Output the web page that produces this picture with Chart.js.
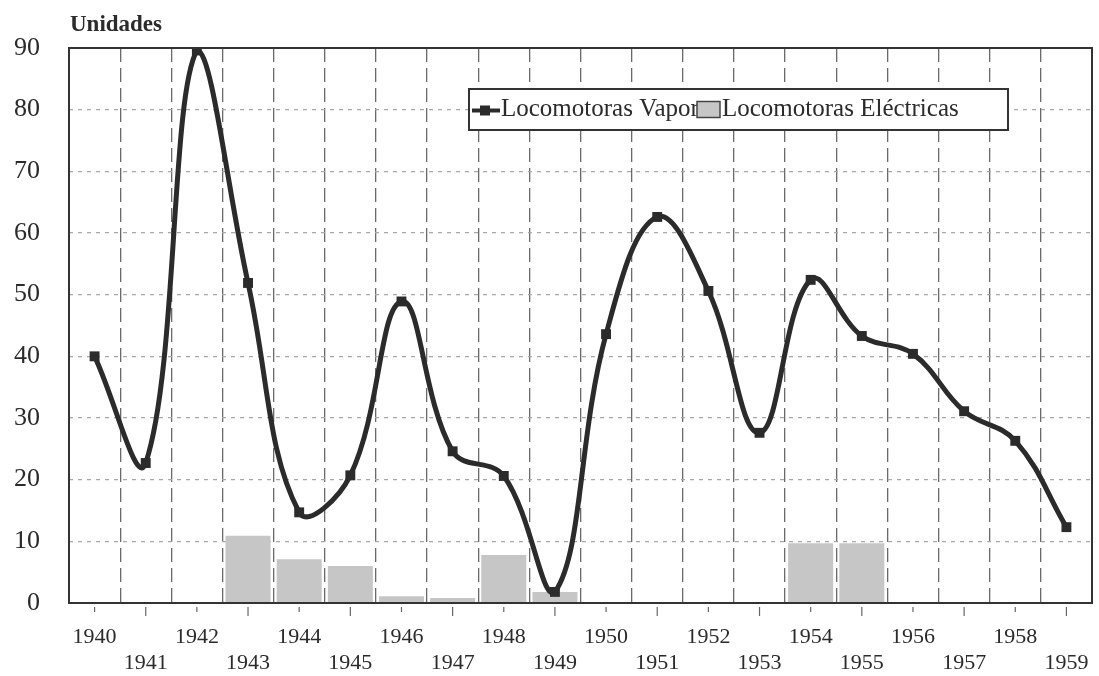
<!DOCTYPE html>
<html>
<head>
<meta charset="utf-8">
<script src="https://cdn.jsdelivr.net/npm/chart.js@4/dist/chart.umd.min.js"></script>
<style>
  html, body { margin: 0; padding: 0; background: #fff; }
  #wrap { width: 1099px; height: 676px; position: relative; }
</style>
</head>
<body>
<div id="wrap"><canvas id="c" width="1099" height="676"></canvas></div>
<script>
// ---- data ----
const years = ['1940','1941','1942','1943','1944','1945','1946','1947','1948','1949',
               '1950','1951','1952','1953','1954','1955','1956','1957','1958','1959'];
const vapor = [40, 22.7, 89.6, 51.9, 14.7, 20.7, 48.9, 24.6, 20.6, 1.8,
               43.6, 62.6, 50.6, 27.6, 52.4, 43.3, 40.4, 31.1, 26.3, 12.3];
const electricas = [null, null, null, 10.9, 7.1, 6.0, 1.1, 0.8, 7.8, 1.8,
                    null, null, null, null, 9.7, 9.7, null, null, null, null];
const yTicks = [0, 10, 20, 30, 40, 50, 60, 70, 80, 90];
const unitLabel = 'Unidades';
const seriesNames = ['Locomotoras Vapor', 'Locomotoras Eléctricas'];

const SERIF = '"Liberation Serif", "DejaVu Serif", serif';
const INK = '#2b2b2b';
const BAR = '#c6c6c6';

const framePlugin = {
  id: 'frame',
  afterDraw(chart) {
    const ctx = chart.ctx, a = chart.chartArea;
    const xs = chart.scales.x;
    ctx.save();
    // frame
    ctx.strokeStyle = '#333';
    ctx.lineWidth = 2;
    ctx.setLineDash([]);
    ctx.strokeRect(a.left, a.top, a.right - a.left, a.bottom - a.top);
    // small tick marks at category centres
    ctx.lineWidth = 1.2;
    ctx.strokeStyle = '#666';
    for (let i = 0; i < years.length; i++) {
      const x = xs.getPixelForValue(i);
      ctx.beginPath();
      ctx.moveTo(x, a.bottom + 4);
      ctx.lineTo(x, a.bottom + (i % 2 ? 13 : 9));
      ctx.stroke();
    }
    // unit label
    ctx.fillStyle = INK;
    ctx.font = 'bold 23px ' + SERIF;
    ctx.textAlign = 'left';
    ctx.textBaseline = 'alphabetic';
    ctx.fillText(unitLabel, a.left + 1, 31);
    // legend box
    const lx = 469, ly = 89, lw = 539, lh = 41;
    ctx.fillStyle = '#fff';
    ctx.fillRect(lx, ly, lw, lh);
    ctx.strokeStyle = '#333';
    ctx.lineWidth = 2;
    ctx.strokeRect(lx, ly, lw, lh);
    const cy = ly + lh / 2;
    // line sample
    ctx.strokeStyle = INK;
    ctx.lineWidth = 4;
    ctx.beginPath(); ctx.moveTo(lx + 3, cy + 1); ctx.lineTo(lx + 31, cy + 1); ctx.stroke();
    ctx.fillStyle = INK;
    ctx.fillRect(lx + 11, cy - 4, 10, 10);
    ctx.font = '25px ' + SERIF;
    ctx.textBaseline = 'middle';
    ctx.fillText(chart.data.datasets[0].label, lx + 32, cy);
    // bar sample (overlapping end of first label, as in original)
    const bx = 697, bw = 23;
    ctx.fillStyle = BAR;
    ctx.fillRect(bx, cy - 8, bw, 16);
    ctx.strokeStyle = '#444';
    ctx.lineWidth = 1.5;
    ctx.strokeRect(bx, cy - 8, bw, 16);
    ctx.fillStyle = INK;
    ctx.fillText(chart.data.datasets[1].label, bx + bw + 2, cy);
    ctx.restore();
  }
};

new Chart(document.getElementById('c'), {
  type: 'bar',
  data: {
    labels: years,
    datasets: [
      {
        type: 'line',
        label: seriesNames[0],
        data: vapor,
        borderColor: INK,
        backgroundColor: INK,
        borderWidth: 5,
        tension: 0.4,
        pointStyle: 'rect',
        pointRadius: 7,
        pointBorderWidth: 0,
        pointBackgroundColor: INK,
        order: 0
      },
      {
        type: 'bar',
        label: seriesNames[1],
        data: electricas,
        backgroundColor: BAR,
        borderColor: '#b0b0b0',
        borderWidth: 0,
        barPercentage: 0.88,
        categoryPercentage: 1.0,
        order: 1
      }
    ]
  },
  options: {
    responsive: false,
    animation: false,
    devicePixelRatio: 1,
    layout: { padding: { left: 14, top: 48, right: 7, bottom: 0 } },
    plugins: { legend: { display: false }, tooltip: { enabled: false } },
    scales: {
      x: {
        offset: true,
        afterFit: (s) => { s.height = 73; s.paddingLeft = 0; s.paddingRight = 0; },
        grid: {
          display: true,
          offset: true,
          drawTicks: false,
          color: '#6a6a6a',
          lineWidth: 1.3,
          borderDash: [14, 6]
        },
        border: { display: false, dash: [14, 6] },
        ticks: {
          autoSkip: false,
          maxRotation: 0,
          minRotation: 0,
          padding: 21,
          color: INK,
          font: { family: SERIF, size: 22, lineHeight: 1.18 },
          callback: function (value, index) {
            const l = this.getLabelForValue(value);
            return index % 2 ? ['', l] : l;
          }
        }
      },
      y: {
        min: 0,
        max: 90,
        afterBuildTicks: (s) => { s.ticks = yTicks.map(v => ({ value: v })); },
        afterFit: (s) => { s.width = 55; s.paddingTop = 0; s.paddingBottom = 0; },
        grid: {
          drawTicks: false,
          color: '#a8a8a8',
          lineWidth: 1.2,
          borderDash: [4, 5]
        },
        border: { display: false, dash: [4, 5] },
        ticks: {
          padding: 29,
          color: INK,
          font: { family: SERIF, size: 26 }
        }
      }
    }
  },
  plugins: [framePlugin]
});
</script>
</body>
</html>
